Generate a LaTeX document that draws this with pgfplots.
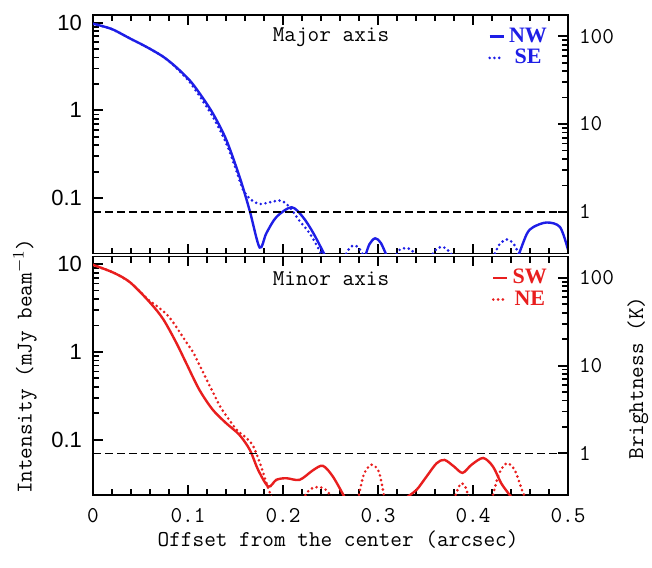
\documentclass[border=0pt]{standalone}
\usepackage{fontspec}
\setmainfont{DejaVu Serif}
\newfontfamily\tickfont{Liberation Sans}
\newfontfamily\legfont{Liberation Serif}
\usepackage{pgfplots}
\pgfplotsset{compat=1.18}
\definecolor{myblue}{RGB}{30,30,230}
\definecolor{myred}{RGB}{232,30,30}
\tikzset{
 solidc/.style={line width=1.2pt, smooth, tension=0.5},
 dotc/.style={line width=1.45pt, line cap=round, dash pattern=on 0pt off 2.4pt, smooth, tension=0.5},
}
\newcommand\fs{\ttfamily\fontsize{11.3}{13}\selectfont}
\newcommand\ls{\tickfont\fontsize{11}{12}\selectfont}
\pgfplotsset{
  every tick/.style={black, line width=1pt},
  every major tick/.style={black, line width=1pt},
  every minor tick/.style={black, line width=0.9pt},
  major tick length=5pt, minor tick length=3pt,
}
\begin{document}
\begin{tikzpicture}
% ---------- top panel: major axis ----------
\begin{axis}[scale only axis, width=237.5pt, height=119.25pt,
  at={(0,120.75pt)}, anchor=south west,
  xmin=0, xmax=0.5, ymode=log, ymin=0.0235, ymax=12.2,
  xtick={0,0.1,0.2,0.3,0.4,0.5}, minor x tick num=4, xticklabels={},
  ytick={0.1,1,10},
  yticklabels={0.1,1,10},
  ytick pos=left,
  axis line style={line width=0.9pt},
  yticklabel style={font=\ls, xshift=-2pt},
  legend style={at={(0.965,0.965)}, anchor=north east, draw=none, fill=none,
     font=\legfont\bfseries\fontsize{11}{12}\selectfont, text=myblue, row sep=-2pt, inner sep=0pt},
  legend image code/.code={\draw[#1] (0pt,0pt) -- (7pt,0pt);}]
\addplot[myblue, solidc] coordinates {
(0,9.7) (0.01,9.1) (0.0214,8.3) (0.0389,6.6) (0.0561,5.3) (0.0737,4.1) (0.0877,3.1)
(0.1018,2.2) (0.1123,1.56) (0.1263,0.92) (0.1404,0.46) (0.1544,0.174) (0.165,0.072)
(0.1754,0.0275) (0.1825,0.040) (0.193,0.061) (0.209,0.079) (0.221,0.061) (0.232,0.040) (0.244,0.0225)};
\addlegendentry{NW}
\addplot[myblue, dotc] coordinates {
(0,9.7) (0.01,9.1) (0.0214,8.3) (0.0389,6.6) (0.0561,5.3) (0.0737,4.1) (0.0877,3.05)
(0.1018,2.1) (0.1123,1.45) (0.1263,0.84) (0.1404,0.42) (0.150,0.22) (0.158,0.125) (0.166,0.097)
(0.1754,0.086) (0.186,0.090) (0.198,0.094) (0.207,0.079) (0.217,0.056) (0.228,0.040) (0.238,0.026) (0.242,0.022)};
\addlegendentry{SE}
\addplot[myblue, dotc, forget plot] coordinates {(0.264,0.021) (0.27,0.027) (0.275,0.029) (0.28,0.027) (0.286,0.021)};
\addplot[myblue, solidc, forget plot] coordinates {(0.286,0.021) (0.291,0.030) (0.297,0.035) (0.303,0.031) (0.31,0.021)};
\addplot[myblue, dotc, forget plot] coordinates {(0.317,0.021) (0.323,0.026) (0.329,0.027) (0.335,0.026) (0.341,0.021)};
\addplot[myblue, dotc, forget plot] coordinates {(0.355,0.021) (0.361,0.026) (0.367,0.028) (0.373,0.026) (0.38,0.021)};
\addplot[myblue, dotc, forget plot] coordinates {(0.421,0.021) (0.428,0.030) (0.436,0.034) (0.443,0.030) (0.45,0.021)};
\addplot[myblue, solidc, forget plot] coordinates {(0.447,0.021) (0.4565,0.039) (0.4635,0.047) (0.4776,0.053) (0.4916,0.047) (0.5,0.026)};
\addplot[black, line width=0.9pt, dash pattern=on 4pt off 2pt, forget plot] coordinates {(0,0.07) (0.5,0.07)};
\node[font=\fs] at (axis description cs:0.501,0.908) {Major axis};
\end{axis}
\begin{axis}[scale only axis, width=237.5pt, height=119.25pt,
  at={(0,120.75pt)}, anchor=south west,
  xmin=0, xmax=0.5, ymode=log, ymin=0.3357, ymax=174.3,
  axis y line*=right, axis x line=none,
  ytick={1,10,100}, yticklabels={1,10,100},
  axis line style={line width=0.9pt},
  yticklabel style={font=\fs, xshift=2pt}]
\end{axis}
% ---------- bottom panel: minor axis ----------
\begin{axis}[scale only axis, width=237.5pt, height=119.25pt,
  at={(0,0)}, anchor=south west,
  xmin=0, xmax=0.5, ymode=log, ymin=0.0235, ymax=12.2,
  xtick={0,0.1,0.2,0.3,0.4,0.5}, minor x tick num=4,
  xticklabels={0,0.1,0.2,0.3,0.4,0.5},
  ytick={0.1,1,10},
  yticklabels={0.1,1,10},
  ytick pos=left,
  axis line style={line width=0.9pt},
  yticklabel style={font=\ls, xshift=-2pt},
  xticklabel style={font=\fs, yshift=-3pt},
  xlabel={Offset from the center (arcsec)},
  ylabel={Intensity (mJy beam$^{-1}$)},
  every axis x label/.style={at={(axis description cs:0.516,-0.189)}, anchor=center, font=\fs},
  every axis y label/.style={at={(axis description cs:-0.143,0.54)}, rotate=90, anchor=center, font=\fs},
  legend style={at={(0.965,0.965)}, anchor=north east, draw=none, fill=none,
     font=\legfont\bfseries\fontsize{11}{12}\selectfont, text=myred, row sep=-2pt, inner sep=0pt},
  legend image code/.code={\draw[#1] (0pt,0pt) -- (7pt,0pt);}]
\addplot[myred, solidc] coordinates {
(0,9.8) (0.0214,8.0) (0.039,6.2) (0.060,3.65) (0.074,2.35) (0.0877,1.27) (0.098,0.75)
(0.112,0.37) (0.126,0.22) (0.140,0.155) (0.154,0.114) (0.165,0.077) (0.174,0.045)
(0.1846,0.0293) (0.193,0.035) (0.2035,0.0365) (0.2175,0.035) (0.2316,0.045) (0.242,0.0505)
(0.2526,0.038) (0.265,0.022)};
\addlegendentry{SW}
\addplot[myred, dotc] coordinates {
(0,9.8) (0.0214,8.0) (0.039,6.2) (0.058,3.95) (0.067,3.34) (0.0775,2.68) (0.0846,2.15) (0.0916,1.66)
(0.0986,1.27) (0.1056,0.98) (0.1109,0.75) (0.1161,0.58) (0.1214,0.44) (0.1267,0.34)
(0.1337,0.24) (0.1407,0.185) (0.1512,0.13) (0.1618,0.104) (0.1688,0.084) (0.1758,0.054)
(0.1828,0.0316) (0.188,0.022)};
\addlegendentry{NE}
\addplot[myred, dotc, forget plot] coordinates {(0.221,0.021) (0.228,0.027) (0.237,0.029) (0.245,0.027) (0.253,0.021)};
\addplot[myred, dotc, forget plot] coordinates {(0.279,0.021) (0.285,0.040) (0.293,0.052) (0.301,0.043) (0.307,0.021)};
\addplot[myred, solidc, forget plot] coordinates {(0.330,0.022) (0.3407,0.027) (0.351,0.038) (0.3617,0.054) (0.370,0.059)
(0.380,0.0496) (0.389,0.042) (0.3985,0.052) (0.4107,0.062) (0.421,0.0496) (0.43,0.0316) (0.4407,0.022)};
\addplot[myred, dotc, forget plot] coordinates {(0.380,0.021) (0.385,0.029) (0.388,0.032) (0.392,0.029) (0.396,0.021)};
\addplot[myred, dotc, forget plot] coordinates {(0.42,0.021) (0.427,0.040) (0.4355,0.054) (0.444,0.045) (0.452,0.026) (0.456,0.021)};
\addplot[black, line width=0.7pt, dash pattern=on 4pt off 2pt, forget plot] coordinates {(0,0.07) (0.5,0.07)};
\node[font=\fs] at (axis description cs:0.501,0.908) {Minor axis};
\end{axis}
\begin{axis}[scale only axis, width=237.5pt, height=119.25pt,
  at={(0,0)}, anchor=south west,
  xmin=0, xmax=0.5, ymode=log, ymin=0.3357, ymax=174.3,
  axis y line*=right, axis x line=none,
  ytick={1,10,100}, yticklabels={1,10,100},
  axis line style={line width=0.9pt},
  yticklabel style={font=\fs, xshift=2pt},
  ylabel={Brightness (K)},
  every axis y label/.style={at={(axis description cs:1.147,0.49)}, rotate=90, anchor=center, font=\fs}]
\end{axis}
\pgfresetboundingbox
\path[use as bounding box] (-46.5pt,-36pt) rectangle (279.5pt,247.5pt);
\end{tikzpicture}
\end{document}
